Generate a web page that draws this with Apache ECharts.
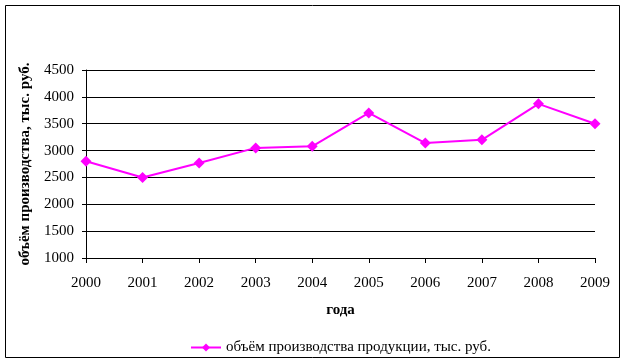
<!DOCTYPE html>
<html><head><meta charset="utf-8">
<script src="https://cdn.jsdelivr.net/npm/echarts@6/dist/echarts.min.js"></script>
<style>html,body{margin:0;padding:0;background:#fff}#c{width:626px;height:364px}</style>
</head><body><div id="c"></div>
<script>
const years = ['2000','2001','2002','2003','2004','2005','2006','2007','2008','2009'];
const volume = [2800, 2500, 2770, 3050, 3080, 3700, 3140, 3200, 3870, 3500];
const seriesName = 'объём производства продукции, тыс. руб.';
const yTitle = 'объём производства, тыс. руб.';
const xTitle = 'года';
const yMin = 1000, yMax = 4500, yStep = 500;

const font = '"Liberation Serif", "Times New Roman", serif';
const chart = echarts.init(document.getElementById('c'), null, {renderer:'canvas'});
chart.setOption({
  animation:false,
  backgroundColor:'#fff',
  textStyle:{fontFamily:font},
  graphic:[{type:'rect',shape:{x:5.5,y:5.5,width:614,height:352},style:{fill:'none',stroke:'#000',lineWidth:1},silent:true}],
  grid:{left:86,right:31,top:70,bottom:106,containLabel:false},
  legend:{bottom:4,left:185,itemWidth:30,itemHeight:10,itemGap:3,
    textStyle:{fontFamily:font,fontSize:15,color:'#000'},
    data:[{name:seriesName}]},
  xAxis:{type:'category',data:years,boundaryGap:false,
    name:xTitle,nameLocation:'middle',nameGap:45,
    nameTextStyle:{fontFamily:font,fontSize:15,fontWeight:'bold',color:'#000'},
    axisLine:{lineStyle:{color:'#000',width:1}},
    axisTick:{show:true,alignWithLabel:true,length:5,lineStyle:{color:'#000'}},
    axisLabel:{color:'#000',fontSize:15,fontFamily:font,margin:18},
    splitLine:{show:false}},
  yAxis:{type:'value',min:yMin,max:yMax,interval:yStep,
    name:yTitle,nameLocation:'middle',nameGap:49,nameRotate:90,
    nameTextStyle:{fontFamily:font,fontSize:15,fontWeight:'bold',color:'#000'},
    axisLine:{show:true,lineStyle:{color:'#000',width:1}},
    axisTick:{show:true,length:4,lineStyle:{color:'#000'}},
    axisLabel:{color:'#000',fontSize:15,fontFamily:font,margin:12,formatter:v=>String(v)},
    splitLine:{show:true,lineStyle:{color:'#000',width:1}}},
  series:[{name:seriesName,type:'line',data:volume,
    symbol:'diamond',symbolSize:11,
    lineStyle:{color:'#ff00ff',width:2},
    itemStyle:{color:'#ff00ff'}}]
});
</script></body></html>
